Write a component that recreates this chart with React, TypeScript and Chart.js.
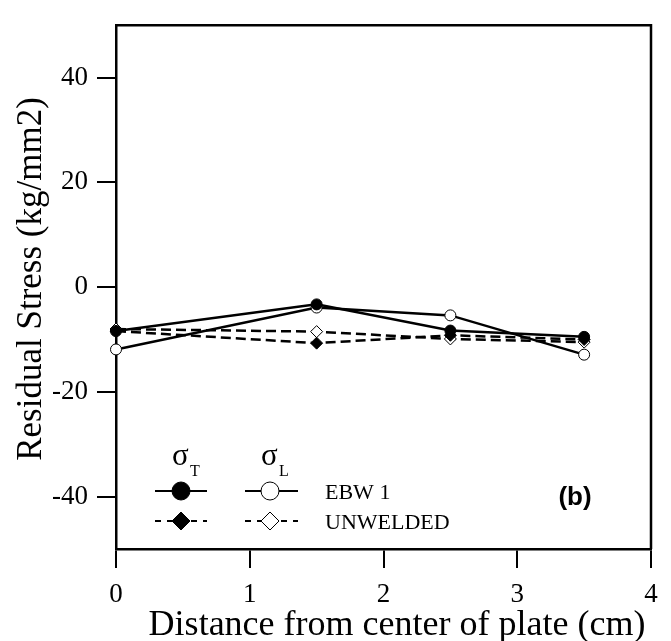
import { useEffect, useRef } from 'react';
import { Chart, registerables } from 'chart.js';
Chart.register(...registerables);

const positions = [0, 1.5, 2.5, 3.5];
const sigmaT_EBW1 = [-8.4, -3.3, -8.3, -9.5];
const sigmaL_EBW1 = [-11.9, -3.9, -5.4, -12.9];
const sigmaT_Unwelded = [-8.4, -10.7, -9.2, -10.0];
const sigmaL_Unwelded = [-8.0, -8.5, -9.9, -10.5];
const xTicks = [0, 1, 2, 3, 4];
const yTicks = [-40, -20, 0, 20, 40];
const legendLabels = ['EBW 1', 'UNWELDED'];

const SERIF = '"Liberation Serif", "Times New Roman", serif';
const SANS = '"Liberation Sans", Arial, sans-serif';

const pts = (ys: number[]) => positions.map((x, i) => ({ x, y: ys[i] }));

const boxAndLegend = {
  id: 'boxAndLegend',
  afterDraw(chart: any) {
    const { ctx, chartArea } = chart;
    ctx.save();
    ctx.strokeStyle = '#000';
    ctx.lineWidth = 2.5;
    ctx.beginPath();
    ctx.moveTo(chartArea.left, chartArea.top);
    ctx.lineTo(chartArea.right, chartArea.top);
    ctx.lineTo(chartArea.right, chartArea.bottom);
    ctx.stroke();

    // axis titles
    ctx.fillStyle = '#000';
    ctx.font = `36px ${SERIF}`;
    ctx.textAlign = 'center';
    ctx.textBaseline = 'alphabetic';
    ctx.fillText('Distance from center of plate (cm)', 397, 635);
    ctx.save();
    ctx.font = `35px ${SERIF}`;
    ctx.translate(41, 279);
    ctx.rotate(-Math.PI / 2);
    ctx.fillText('Residual Stress (kg/mm2)', 0, 0);
    ctx.restore();

    // legend headers
    ctx.textAlign = 'left';
    ctx.font = `31px ${SERIF}`;
    ctx.fillText('σ', 172, 465);
    ctx.fillText('σ', 261, 465);
    ctx.font = `16px ${SERIF}`;
    ctx.fillText('T', 190, 476);
    ctx.fillText('L', 279, 476);

    const rows = [491, 521];
    rows.forEach((ry, r) => {
      ctx.lineWidth = 2;
      ctx.strokeStyle = '#000';
      ctx.setLineDash(r === 0 ? [] : [6, 6]);
      ctx.beginPath();
      ctx.moveTo(155, ry); ctx.lineTo(207, ry);
      ctx.moveTo(245, ry); ctx.lineTo(298, ry);
      ctx.stroke();
      ctx.setLineDash([]);
      const drawMarker = (cx: number, filled: boolean) => {
        ctx.beginPath();
        if (r === 0) {
          ctx.arc(cx, ry, 9, 0, Math.PI * 2);
        } else {
          ctx.moveTo(cx, ry - 9);
          ctx.lineTo(cx + 9, ry);
          ctx.lineTo(cx, ry + 9);
          ctx.lineTo(cx - 9, ry);
          ctx.closePath();
        }
        ctx.fillStyle = filled ? '#000' : '#fff';
        ctx.fill();
        ctx.lineWidth = 1;
        ctx.strokeStyle = '#000';
        ctx.stroke();
      };
      drawMarker(181, true);
      drawMarker(270, false);
      ctx.fillStyle = '#000';
      ctx.font = `22px ${SERIF}`;
      ctx.fillText(legendLabels[r], 325, ry + 8);
    });

    ctx.font = `bold 26px ${SANS}`;
    ctx.textAlign = 'center';
    ctx.textBaseline = 'middle';
    ctx.fillText('(b)', 575, 498);
    ctx.restore();
  },
};

export default function App() {
  const ref = useRef<HTMLCanvasElement>(null);
  useEffect(() => {
    if (!ref.current) return;
    const solid = { borderColor: '#000', borderWidth: 2.5, fill: false, tension: 0, clip: false as any };
    const chart = new Chart(ref.current, {
      type: 'line',
      data: {
        datasets: [
          { ...solid, label: 'σT EBW 1', data: pts(sigmaT_EBW1), pointStyle: 'circle', pointRadius: 5.5, pointBackgroundColor: '#000', pointBorderColor: '#000', pointBorderWidth: 1 },
          { ...solid, label: 'σL EBW 1', data: pts(sigmaL_EBW1), pointStyle: 'circle', pointRadius: 5.5, pointBackgroundColor: '#fff', pointBorderColor: '#000', pointBorderWidth: 1 },
          { ...solid, label: 'σT UNWELDED', data: pts(sigmaT_Unwelded), borderDash: [10, 5], pointStyle: 'rectRot', pointRadius: 6, pointBackgroundColor: '#000', pointBorderColor: '#000', pointBorderWidth: 1 },
          { ...solid, label: 'σL UNWELDED', data: pts(sigmaL_Unwelded), borderDash: [10, 5], pointStyle: 'rectRot', pointRadius: 6, pointBackgroundColor: '#fff', pointBorderColor: '#000', pointBorderWidth: 1 },
        ],
      },
      options: {
        responsive: false,
        animation: false,
        layout: { padding: { top: 13, right: 20, left: 0, bottom: 0 } },
        plugins: { legend: { display: false }, tooltip: { enabled: false } },
        scales: {
          x: {
            type: 'linear',
            min: 0,
            max: 4,
            afterBuildTicks: (s: any) => { s.ticks = xTicks.map((v) => ({ value: v })); },
            afterFit: (s: any) => { s.height = 92; },
            grid: { drawOnChartArea: false, drawTicks: true, tickLength: 19, color: '#000', lineWidth: 2 },
            border: { color: '#000', width: 2.5 },
            ticks: { color: '#000', font: { family: SERIF, size: 27 }, padding: 11, maxRotation: 0 },
          },
          y: {
            type: 'linear',
            min: -50,
            max: 50,
            afterBuildTicks: (s: any) => { s.ticks = yTicks.map((v) => ({ value: v })); },
            afterFit: (s: any) => { s.width = 116; },
            grid: { drawOnChartArea: false, drawTicks: true, tickLength: 19, color: '#000', lineWidth: 2 },
            border: { color: '#000', width: 2.5 },
            ticks: { color: '#000', font: { family: SERIF, size: 27 }, padding: 9 },
          },
        },
      },
      plugins: [boxAndLegend],
    });
    return () => chart.destroy();
  }, []);
  return (
    <div style={{ position: 'fixed', left: 0, top: 0, width: 671, height: 641, background: '#fff' }}>
      <canvas ref={ref} width={671} height={641} style={{ width: 671, height: 641 }} />
    </div>
  );
}
